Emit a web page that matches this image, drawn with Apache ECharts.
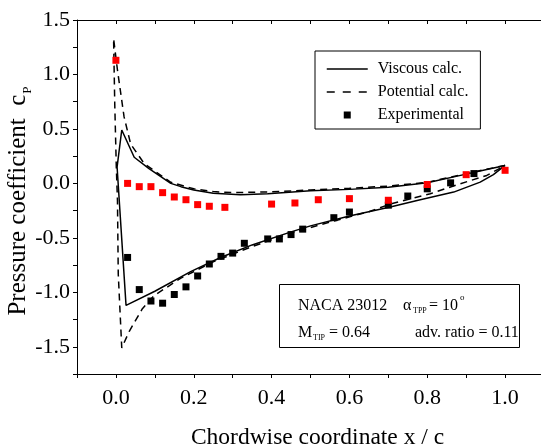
<!DOCTYPE html>
<html>
<head>
<meta charset="utf-8">
<script src="https://cdn.jsdelivr.net/npm/echarts@6/dist/echarts.min.js"></script>
<style>html,body{margin:0;padding:0;background:#fff;}#c{width:541px;height:448px;}</style>
</head>
<body>
<div id="c"></div>
<script>
// ---- data ----
var viscousX = [1.0, 0.95, 0.9, 0.8, 0.7, 0.6, 0.5, 0.39, 0.32, 0.25, 0.2, 0.167, 0.141, 0.085, 0.047, 0.015, 0.003, 0.026,
                0.1, 0.192, 0.269, 0.35, 0.45, 0.5, 0.6, 0.705, 0.782, 0.868, 0.936, 0.97, 1.0];
var viscousY = [0.165, 0.125, 0.085, 0.005, -0.035, -0.055, -0.068, -0.095, -0.104, -0.09, -0.06, -0.03, 0.0, 0.135, 0.24, 0.49, 0.15, -1.12,
                -0.99, -0.81, -0.68, -0.565, -0.445, -0.39, -0.3, -0.217, -0.15, -0.08, 0.012, 0.08, 0.165];
var potentialX = [1.0, 0.9, 0.8, 0.7, 0.6, 0.5, 0.4, 0.3, 0.25, 0.2, 0.141, 0.073, 0.038, 0.021, 0.004, -0.006, -0.003, 0.001, 0.004, 0.006, 0.015,
                  0.034, 0.068, 0.098, 0.167, 0.25, 0.35, 0.45, 0.55, 0.65, 0.705, 0.808, 0.885, 0.953, 1.0];
var potentialY = [0.165, 0.09, 0.01, -0.025, -0.045, -0.06, -0.078, -0.085, -0.075, -0.05, 0.01, 0.18, 0.36, 0.61, 1.04, 1.33, 0.73, 0.15, -0.16, -0.83, -1.51,
                  -1.36, -1.15, -1.03, -0.87, -0.72, -0.58, -0.455, -0.355, -0.26, -0.19, -0.095, -0.003, 0.073, 0.165];
var expUpperX = [0.0, 0.03, 0.06, 0.09, 0.12, 0.15, 0.18, 0.21, 0.24, 0.28, 0.40, 0.46, 0.52, 0.60, 0.70, 0.80, 0.90, 1.0];
var expUpperY = [1.13, 0.0, -0.03, -0.03, -0.085, -0.125, -0.15, -0.195, -0.21, -0.22, -0.19, -0.18, -0.15, -0.14, -0.155, -0.01, 0.08, 0.12];
var expLowerX = [0.03, 0.06, 0.09, 0.12, 0.15, 0.18, 0.21, 0.24, 0.27, 0.30, 0.33, 0.39, 0.42, 0.45, 0.48, 0.56, 0.60, 0.70, 0.75, 0.80, 0.86, 0.92];
var expLowerY = [-0.68, -0.975, -1.08, -1.10, -1.02, -0.95, -0.85, -0.74, -0.67, -0.64, -0.55, -0.51, -0.51, -0.47, -0.42, -0.315, -0.263, -0.2, -0.116, -0.05, 0.005, 0.09];
var xTickLabels = ['0.0', '0.2', '0.4', '0.6', '0.8', '1.0'];
var yTickLabels = ['-1.5', '-1.0', '-0.5', '0.0', '0.5', '1.0', '1.5'];

function zip(a, b) { return a.map(function (v, i) { return [v, b[i]]; }); }

var FONT = 'Liberation Serif';
var chart = echarts.init(document.getElementById('c'), null, { renderer: 'canvas' });

function txt(x, y, s, size) {
  return { type: 'text', x: x, y: y, z: 100, style: { text: s, font: size + 'px "Liberation Serif"', fill: '#000', verticalAlign: 'middle' } };
}

var option = {
  animation: false,
  backgroundColor: '#fff',
  grid: { left: 77, top: 20, width: 467, height: 354, containLabel: false, outerBoundsMode: 'none' },
  xAxis: [{
    type: 'value', min: -0.1, max: 1.1, interval: 0.1, position: 'bottom',
    name: 'Chordwise coordinate x / c', nameLocation: 'middle', nameGap: 52,
    nameTextStyle: { fontFamily: FONT, fontSize: 23.5, color: '#000', padding: [0, 0, 0, 14] },
    axisLine: { show: true, onZero: false, lineStyle: { color: '#000', width: 1 } },
    axisTick: { show: true, inside: false, length: 4, lineStyle: { color: '#000' } },
    axisLabel: {
      fontFamily: FONT, fontSize: 22, color: '#000', margin: 13,
      formatter: function (v) {
        var k = Math.round(v * 10);
        if (k < 0 || k % 2 !== 0) return '';
        return xTickLabels[k / 2] || '';
      }
    },
    splitLine: { show: false }
  }, {
    type: 'value', min: -0.1, max: 1.1, interval: 0.1, position: 'top',
    axisLine: { show: true, onZero: false, lineStyle: { color: '#000', width: 1 } },
    axisTick: { show: true, inside: true, length: 4, lineStyle: { color: '#000' } },
    axisLabel: { show: false }, splitLine: { show: false }
  }],
  yAxis: {
    type: 'value', min: -1.75, max: 1.5, interval: 0.25,
    name: '{a|Pressure coefficient  c}{s|P}', nameLocation: 'middle', nameGap: 45, nameRotate: 90,
    nameMoveOverlap: false,
    nameTextStyle: {
      fontFamily: FONT, fontSize: 25, color: '#000', padding: [0, 8, 0, 0],
      rich: {
        a: { fontFamily: FONT, fontSize: 25, color: '#000', lineHeight: 28 },
        s: { fontFamily: FONT, fontSize: 13, color: '#000', verticalAlign: 'bottom', lineHeight: 28, padding: [0, 0, -2, 1] }
      }
    },
    axisLine: { show: true, onZero: false, lineStyle: { color: '#000', width: 1 } },
    axisTick: { show: true, inside: false, length: 4, lineStyle: { color: '#000' } },
    axisLabel: {
      fontFamily: FONT, fontSize: 22, color: '#000', margin: 7,
      formatter: function (v) {
        var k = Math.round(v * 4);
        if (k % 2 !== 0) return '';
        return yTickLabels[k / 2 + 3] || '';
      }
    },
    splitLine: { show: false }
  },
  legend: {
    orient: 'vertical', left: 315, top: 51,
    padding: [10, 12, 6, 11],
    borderColor: '#000', borderWidth: 1, backgroundColor: '#fff',
    itemWidth: 41, itemHeight: 7, itemGap: 7,
    textStyle: { fontFamily: FONT, fontSize: 16, color: '#000', padding: [0, 0, 0, 5] },
    data: [
      { name: 'Viscous calc.', itemStyle: { opacity: 0 }, lineStyle: { width: 1.5, color: '#000' } },
      { name: 'Potential calc.', itemStyle: { opacity: 0 }, lineStyle: { type: [8, 8], width: 1.5, color: '#000' } },
      { name: 'Experimental', icon: 'path://M0,0L1,0L1,1L0,1Z', itemStyle: { color: '#000', opacity: 1 } }
    ],
    selectedMode: false
  },
  series: [
    {
      name: 'Viscous calc.', type: 'line', data: zip(viscousX, viscousY),
      symbol: 'none', lineStyle: { color: '#000', width: 1.5 }, itemStyle: { color: '#000' }, z: 3
    },
    {
      name: 'Potential calc.', type: 'line', data: zip(potentialX, potentialY),
      symbol: 'none', lineStyle: { color: '#000', width: 1.5, type: [7, 5] }, itemStyle: { color: '#000' }, z: 3
    },
    {
      name: 'Experimental', type: 'scatter', data: zip(expLowerX, expLowerY),
      symbol: 'rect', symbolSize: 7, itemStyle: { color: '#000', opacity: 1 }, z: 4
    },
    {
      name: 'Experimental upper', type: 'scatter', data: zip(expUpperX, expUpperY),
      symbol: 'rect', symbolSize: 7, itemStyle: { color: '#ff0000', opacity: 1 }, z: 4
    }
  ],
  graphic: [
    { type: 'rect', z: 99, shape: { x: 279.5, y: 284.5, width: 240, height: 63 }, style: { fill: '#fff', stroke: '#000', lineWidth: 1 } },
    txt(298, 306, 'NACA 23012', 16),
    txt(403, 306, 'α', 16),
    txt(413, 311, 'TPP', 8),
    txt(429, 306, '= 10', 16),
    txt(460, 298, 'o', 9),
    txt(298, 333, 'M', 16),
    txt(313, 338, 'TIP', 8),
    txt(329, 333, '= 0.64', 16),
    txt(415, 333, 'adv. ratio = 0.11', 16)
  ]
};
chart.setOption(option);
</script>
</body>
</html>
